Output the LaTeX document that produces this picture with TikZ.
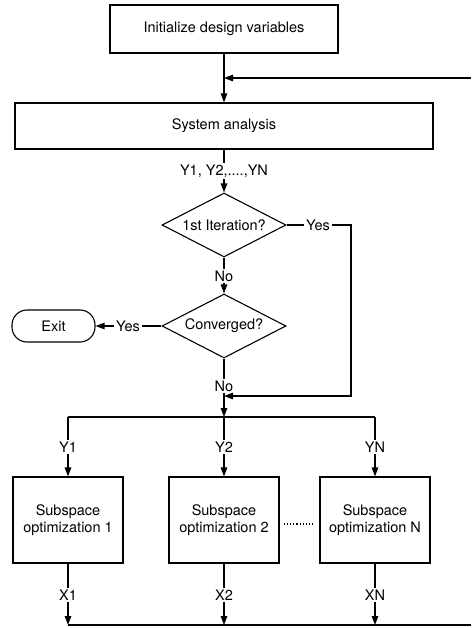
\documentclass[tikz,border=0pt]{standalone}
\usepackage{fontspec}
\setmainfont{TeX Gyre Heros}
\usepackage{tikz}
\usetikzlibrary{
    positioning,
    arrows.meta,
    shapes.geometric,
    calc,
}
\tikzset{
    % Block styles
    block/.style={rectangle, draw, line width=1.1pt, align=center, inner sep=2pt},
    decision/.style={diamond, draw, line width=1.1pt, aspect=2,
                     minimum width=124pt, minimum height=64pt, inner sep=0pt},
    terminal/.style={rectangle, draw, line width=1.1pt, rounded corners=15pt,
                     minimum width=83pt, minimum height=32pt},
    % Arrow styles
    flow/.style={line width=1.3pt},
    arrow/.style={flow, -{Triangle[length=9pt, width=6.5pt]}},
    % Annotation styles
    tag/.style={inner sep=1.5pt},
}

\begin{document}
\begin{tikzpicture}[x=1pt, y=-1pt, font=\fontsize{14.5}{17}\selectfont]
    \useasboundingbox (0,0) rectangle (471,628);

    % System level
    \node[block, minimum width=228pt, minimum height=48pt] (init) at (224,29) {Initialize design variables};
    \node[block, minimum width=418pt, minimum height=46pt] (sys) at (224,126) {System analysis};
    \node[tag] (yall) at (224,171) {Y1, Y2,....,YN};

    % Decisions
    \node[decision] (iter) at (224,225) {1st Iteration?};
    \node[tag] (yes1) at (318,225) {Yes};
    \node[tag] (no1) at (224,276) {No};
    \node[decision] (conv) at (224,326) {Converged?};
    \node[tag] (yes2) at (128,326) {Yes};
    \node[terminal] (exit) at (53.5,326) {Exit};
    \node[tag] (no2) at (224,386) {No};

    % Junctions
    \coordinate (fb) at (471,78);
    \coordinate (merge) at (224,78);
    \coordinate (turn) at (351,396);
    \coordinate (join) at (224,396);
    \coordinate (split) at (224,417);
    \coordinate (ret) at (471,625);

    % Arrows
    \draw[arrow] (init) -- (sys);
    \draw[arrow] (fb) -- (merge);
    \draw[flow] (sys) -- (yall);
    \draw[arrow] (yall) -- (iter);
    \draw[flow] (iter) -- (no1);
    \draw[arrow] (no1) -- (conv);
    \draw[flow] (iter.east) -- (yes1);
    \draw[arrow] (yes1) -| (turn) -- (join);
    \draw[flow] (conv.west) -- (yes2);
    \draw[arrow] (yes2) -- (exit);
    \draw[flow] (conv) -- (no2);
    \draw[arrow] (no2) -- (split);

    % Subspace optimizations
    \foreach \i/\x in {1/68, 2/224, N/375} {
        \coordinate (bus\i) at (\x,417);
        \coordinate (out\i) at (\x,625);
        \node[tag] (y\i) at (\x,447) {Y\i};
        \node[block, minimum width=110pt, minimum height=86pt] (sub\i) at (\x,520) {Subspace\\optimization \i};
        \node[tag] (x\i) at (\x,595) {X\i};
        \draw[flow] (bus\i) -- (y\i);
        \draw[arrow] (y\i) -- (sub\i);
        \draw[flow] (sub\i) -- (x\i);
        \draw[arrow] (x\i) -- (out\i);
    }
    \draw[flow] (bus1) -- (busN);
    \draw[flow] (out1) -- (ret);
    \draw[dotted, line width=1.2pt, shorten <=4pt, shorten >=6pt]
        ([yshift=-4pt]sub2.east) -- ([yshift=-4pt]subN.west);
\end{tikzpicture}
\end{document}
